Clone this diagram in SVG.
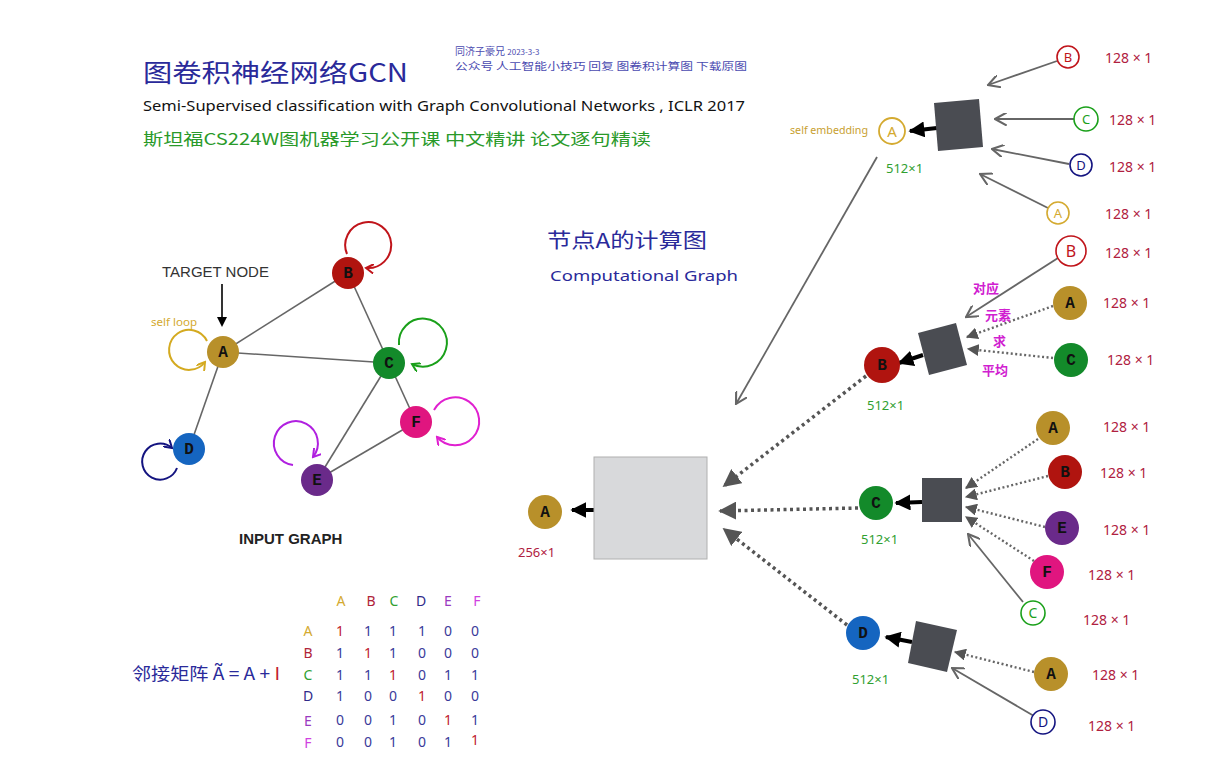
<svg xmlns="http://www.w3.org/2000/svg" width="1211" height="767" viewBox="0 0 1211 767">
<style>
.hand{font-family:"Noto Sans","Noto Sans CJK SC",sans-serif}
.cjk{font-family:"Noto Sans CJK SC","Noto Sans",sans-serif}
.nl{font-family:"Liberation Mono",monospace;font-weight:bold;font-size:16px;fill:#111;text-anchor:middle}
.edge{stroke:#666;stroke-width:1.6;fill:none}
.thin{stroke:#666;stroke-width:1.8;fill:none;marker-end:url(#open)}
.dot{stroke:#666;stroke-width:2.4;stroke-dasharray:2 2.5;fill:none;marker-end:url(#tri)}
.bigdot{stroke:#555;stroke-width:3.5;stroke-dasharray:3 3.5;fill:none;marker-end:url(#tri2)}
.out{stroke:#000;stroke-width:4;fill:none;marker-end:url(#blk)}
.agg{fill:#4a4c52}
.dim{font-family:"Noto Sans",sans-serif;font-size:14px;fill:#b02040}
.g512{font-family:"Noto Sans",sans-serif;font-size:13px;fill:#30a030}
.mx{font-family:"Noto Sans",sans-serif;font-size:14px;text-anchor:middle}
</style>
<defs>
<marker id="open" viewBox="0 0 10 10" refX="9" refY="5" markerWidth="13" markerHeight="13" markerUnits="userSpaceOnUse" orient="auto"><path d="M0,0 L9,5 L0,10" fill="none" stroke="#666" stroke-width="1.6"/></marker>
<marker id="tri" viewBox="0 0 10 10" refX="9" refY="5" markerWidth="12" markerHeight="12" markerUnits="userSpaceOnUse" orient="auto"><path d="M0,0 L10,5 L0,10 Z" fill="#555"/></marker>
<marker id="tri2" viewBox="0 0 10 10" refX="9" refY="5" markerWidth="18" markerHeight="18" markerUnits="userSpaceOnUse" orient="auto"><path d="M0,0 L10,5 L0,10 Z" fill="#555"/></marker>
<marker id="blk" viewBox="0 0 10 10" refX="9" refY="5" markerWidth="16" markerHeight="16" markerUnits="userSpaceOnUse" orient="auto"><path d="M0,0 L10,5 L0,10 Z" fill="#000"/></marker>
<marker id="arrT" viewBox="0 0 10 10" refX="5" refY="5" markerWidth="10" markerHeight="10" markerUnits="userSpaceOnUse" orient="auto"><path d="M0,0 L10,5 L0,10 Z" fill="#000"/></marker>
<marker id="lA" viewBox="0 0 10 10" refX="8" refY="5" markerWidth="10" markerHeight="10" markerUnits="userSpaceOnUse" orient="auto"><path d="M0,0 L8,5 L0,10" fill="none" stroke="#d4aa20" stroke-width="2"/></marker>
<marker id="lB" viewBox="0 0 10 10" refX="8" refY="5" markerWidth="10" markerHeight="10" markerUnits="userSpaceOnUse" orient="auto"><path d="M0,0 L8,5 L0,10" fill="none" stroke="#c0141a" stroke-width="2"/></marker>
<marker id="lC" viewBox="0 0 10 10" refX="8" refY="5" markerWidth="10" markerHeight="10" markerUnits="userSpaceOnUse" orient="auto"><path d="M0,0 L8,5 L0,10" fill="none" stroke="#1aa01a" stroke-width="2"/></marker>
<marker id="lD" viewBox="0 0 10 10" refX="8" refY="5" markerWidth="10" markerHeight="10" markerUnits="userSpaceOnUse" orient="auto"><path d="M0,0 L8,5 L0,10" fill="none" stroke="#141480" stroke-width="2"/></marker>
<marker id="lE" viewBox="0 0 10 10" refX="8" refY="5" markerWidth="10" markerHeight="10" markerUnits="userSpaceOnUse" orient="auto"><path d="M0,0 L8,5 L0,10" fill="none" stroke="#b020e0" stroke-width="2"/></marker>
<marker id="lF" viewBox="0 0 10 10" refX="8" refY="5" markerWidth="10" markerHeight="10" markerUnits="userSpaceOnUse" orient="auto"><path d="M0,0 L8,5 L0,10" fill="none" stroke="#e020d0" stroke-width="2"/></marker>
</defs>
<rect width="1211" height="767" fill="#fff"/>

<!-- header texts -->
<g id="header">
<text x="143" y="82" class="cjk" font-size="25" fill="#2a2a9a" textLength="265" lengthAdjust="spacingAndGlyphs">图卷积神经网络GCN</text>
<text x="455" y="55" class="cjk" font-size="10" fill="#4a4ab0">同济子豪兄 <tspan font-size="8">2023-3-3</tspan></text>
<text x="455" y="70" class="cjk" font-size="10" fill="#4a4ab0" textLength="292" lengthAdjust="spacingAndGlyphs">公众号 人工智能小技巧 回复 图卷积计算图 下载原图</text>
<text x="143" y="111" class="hand" font-size="14" fill="#111" textLength="602" lengthAdjust="spacingAndGlyphs">Semi-Supervised classification with Graph Convolutional Networks , ICLR 2017</text>
<text x="143" y="145" class="cjk" font-size="16" fill="#2a9a2a" textLength="508" lengthAdjust="spacingAndGlyphs">斯坦福CS224W图机器学习公开课  中文精讲   论文逐句精读</text>
</g>

<!-- input graph -->
<g id="input-graph">
<g id="ig-edges">
<line class="edge" x1="223" y1="352" x2="348" y2="273"/>
<line class="edge" x1="223" y1="352" x2="389" y2="363"/>
<line class="edge" x1="223" y1="352" x2="189" y2="449"/>
<line class="edge" x1="348" y1="273" x2="389" y2="363"/>
<line class="edge" x1="389" y1="363" x2="317" y2="480"/>
<line class="edge" x1="389" y1="363" x2="416" y2="422"/>
<line class="edge" x1="317" y1="480" x2="416" y2="422"/>
</g>
<g id="ig-loops" fill="none" stroke-width="2">
<path d="M207 341 A20 20 0 1 0 205 362" stroke="#d4aa20" marker-end="url(#lA)"/>
<path d="M347 254 A23 23 0 1 1 366 268" stroke="#c0141a" marker-end="url(#lB)"/>
<path d="M399 345 A24 24 0 1 1 412 364" stroke="#1aa01a" marker-end="url(#lC)"/>
<path d="M177 468 A18 18 0 1 1 172 448" stroke="#141480" marker-end="url(#lD)"/>
<path d="M293 465 A22 22 0 1 1 313 457" stroke="#b020e0" marker-end="url(#lE)"/>
<path d="M434 410 A24 24 0 1 1 437 437" stroke="#e020d0" marker-end="url(#lF)"/>
</g>
<g id="ig-A"><circle cx="223" cy="352" r="16" fill="#b8902a"/><text x="223" y="357" class="nl">A</text></g>
<g id="ig-B"><circle cx="348" cy="273" r="16" fill="#b0140f"/><text x="348" y="278" class="nl">B</text></g>
<g id="ig-C"><circle cx="389" cy="363" r="16" fill="#138a2a"/><text x="389" y="368" class="nl">C</text></g>
<g id="ig-D"><circle cx="189" cy="449" r="16" fill="#1565c0"/><text x="189" y="454" class="nl">D</text></g>
<g id="ig-E"><circle cx="317" cy="480" r="16" fill="#6a2a8a"/><text x="317" y="485" class="nl">E</text></g>
<g id="ig-F"><circle cx="416" cy="422" r="16" fill="#e0157f"/><text x="416" y="427" class="nl">F</text></g>
<text x="162" y="277" font-family="Liberation Sans,sans-serif" font-size="15" fill="#333">TARGET NODE</text>
<line x1="222" y1="284" x2="222" y2="322" stroke="#000" stroke-width="1.6" marker-end="url(#arrT)"/>
<text x="151" y="326" class="hand" font-size="10" fill="#d4aa30" textLength="46" lengthAdjust="spacingAndGlyphs">self loop</text>
<text x="239" y="544" font-family="Liberation Sans,sans-serif" font-weight="bold" font-size="15" fill="#222">INPUT GRAPH</text>
</g>

<!-- adjacency matrix -->
<g id="matrix">
<text x="132" y="680" class="cjk" font-size="17" fill="#2a2a9a" textLength="148" lengthAdjust="spacingAndGlyphs">邻接矩阵 Ã = A + <tspan fill="#c02030">I</tspan></text>
<g class="mx">
<text x="341" y="606" fill="#d4aa30">A</text><text x="371" y="606" fill="#b0243a">B</text><text x="394" y="606" fill="#30a030">C</text><text x="421" y="606" fill="#302a8a">D</text><text x="448" y="606" fill="#9a3ac0">E</text><text x="477" y="606" fill="#d040e0">F</text>
<text x="308" y="636" fill="#d4aa30">A</text><text x="308" y="658" fill="#b0243a">B</text><text x="308" y="680" fill="#30a030">C</text><text x="308" y="701" fill="#302a8a">D</text><text x="308" y="726" fill="#9a3ac0">E</text><text x="308" y="748" fill="#d040e0">F</text>
</g>
<g class="mx" fill="#3a3a9a">
<text x="340" y="636" fill="#c02030">1</text><text x="368" y="636">1</text><text x="393" y="636">1</text><text x="422" y="636">1</text><text x="448" y="636">0</text><text x="475" y="636">0</text>
<text x="340" y="658">1</text><text x="368" y="658" fill="#c02030">1</text><text x="393" y="658">1</text><text x="422" y="658">0</text><text x="448" y="658">0</text><text x="475" y="658">0</text>
<text x="340" y="680">1</text><text x="368" y="680">1</text><text x="393" y="680" fill="#c02030">1</text><text x="422" y="680">0</text><text x="448" y="680">1</text><text x="475" y="680">1</text>
<text x="340" y="701">1</text><text x="368" y="701">0</text><text x="393" y="701">0</text><text x="422" y="701" fill="#c02030">1</text><text x="448" y="701">0</text><text x="475" y="701">0</text>
<text x="340" y="725">0</text><text x="368" y="725">0</text><text x="393" y="725">1</text><text x="422" y="725">0</text><text x="448" y="725" fill="#c02030">1</text><text x="475" y="725">1</text>
<text x="340" y="747">0</text><text x="368" y="747">0</text><text x="393" y="747">1</text><text x="422" y="747">0</text><text x="448" y="747">1</text><text x="475" y="745" fill="#c02030">1</text>
</g>
</g>

<!-- computational graph titles -->
<text x="547" y="248" class="cjk" font-size="20" fill="#2a2a9a" textLength="160" lengthAdjust="spacingAndGlyphs">节点A的计算图</text>
<text x="550" y="281" class="hand" font-size="15" fill="#2a2a9a" textLength="188" lengthAdjust="spacingAndGlyphs">Computational Graph</text>

<!-- connectors -->
<g id="connectors">
<line class="thin" x1="877" y1="157" x2="736" y2="404"/>
<line class="bigdot" x1="866" y1="376" x2="724" y2="486"/>
<line class="bigdot" x1="858" y1="508" x2="720" y2="511"/>
<line class="bigdot" x1="847" y1="625" x2="724" y2="529"/>
<line class="out" x1="594" y1="510" x2="572" y2="510"/>
<!-- group A -->
<line class="thin" x1="1057" y1="61" x2="988" y2="85"/>
<line class="thin" x1="1074" y1="119" x2="995" y2="119"/>
<line class="thin" x1="1069" y1="164" x2="992" y2="149"/>
<line class="thin" x1="1048" y1="208" x2="980" y2="174"/>
<line class="out" x1="937" y1="128" x2="910" y2="131"/>
<!-- group B -->
<line class="thin" x1="1058" y1="258" x2="966" y2="317"/>
<line class="dot" x1="1053" y1="306" x2="967" y2="337"/>
<line class="dot" x1="1053" y1="358" x2="968" y2="349"/>
<line class="out" x1="923" y1="355" x2="899" y2="363"/>
<!-- group C -->
<line class="dot" x1="1038" y1="439" x2="966" y2="488"/>
<line class="dot" x1="1048" y1="476" x2="966" y2="497"/>
<line class="dot" x1="1045" y1="527" x2="966" y2="507"/>
<line class="dot" x1="1034" y1="561" x2="966" y2="517"/>
<line class="thin" x1="1023" y1="602" x2="968" y2="534"/>
<line class="out" x1="922" y1="502" x2="896" y2="503"/>
<!-- group D -->
<line class="dot" x1="1034" y1="672" x2="955" y2="652"/>
<line class="thin" x1="1034" y1="716" x2="952" y2="668"/>
<line class="out" x1="912" y1="642" x2="886" y2="637"/>
</g>

<!-- final output A -->
<g id="layer2">
<rect x="594" y="457" width="113" height="102" fill="#d8d9db" stroke="#b0b0b0" stroke-width="1"/>
</g>
<g id="outA">
<circle cx="545" cy="512" r="17" fill="#b8902a"/><text x="545" y="517" class="nl">A</text>
<text x="518" y="557" class="hand" font-size="13" fill="#b02040">256×1</text>
</g>

<!-- group A (top) -->
<g id="aggA">
<polygon class="agg" points="934,103 979,99 983,147 938,151"/>
<circle cx="892" cy="131" r="13" fill="#fff" stroke="#d4aa30" stroke-width="1.8"/>
<text x="892" y="137" class="hand" font-size="15" fill="#d4aa30" text-anchor="middle">A</text>
<text x="790" y="134" class="hand" font-size="10" fill="#c8a030" textLength="78" lengthAdjust="spacingAndGlyphs">self embedding</text>
<text x="886" y="173" class="g512">512×1</text>
</g>
<g id="inA-B"><circle cx="1068" cy="57" r="11" fill="#fff" stroke="#c0141a" stroke-width="1.6"/><text x="1068" y="62" class="hand" font-size="13" fill="#c0141a" text-anchor="middle">B</text><text x="1105" y="63" class="dim">128 × 1</text></g>
<g id="inA-C"><circle cx="1086" cy="119" r="12" fill="#fff" stroke="#1aa01a" stroke-width="1.6"/><text x="1086" y="124" class="hand" font-size="13" fill="#1aa01a" text-anchor="middle">C</text><text x="1109" y="125" class="dim">128 × 1</text></g>
<g id="inA-D"><circle cx="1081" cy="165" r="11" fill="#fff" stroke="#141480" stroke-width="1.6"/><text x="1081" y="170" class="hand" font-size="13" fill="#141480" text-anchor="middle">D</text><text x="1109" y="172" class="dim">128 × 1</text></g>
<g id="inA-A"><circle cx="1058" cy="213" r="11" fill="#fff" stroke="#d4aa30" stroke-width="1.6"/><text x="1058" y="218" class="hand" font-size="13" fill="#d4aa30" text-anchor="middle">A</text><text x="1105" y="219" class="dim">128 × 1</text></g>

<!-- group B -->
<g id="aggB">
<polygon class="agg" points="918,333 956,323 967,365 929,375"/>
<circle cx="882" cy="365" r="18" fill="#b0140f"/><text x="882" y="370" class="nl">B</text>
<text x="867" y="410" class="g512">512×1</text>
<text x="973" y="293" class="cjk" font-size="13" font-weight="bold" fill="#d020d0">对应</text>
<text x="985" y="320" class="cjk" font-size="13" font-weight="bold" fill="#d020d0">元素</text>
<text x="993" y="346" class="cjk" font-size="13" font-weight="bold" fill="#d020d0">求</text>
<text x="982" y="375" class="cjk" font-size="13" font-weight="bold" fill="#d020d0">平均</text>
</g>
<g id="inB-B"><circle cx="1071" cy="251" r="15" fill="#fff" stroke="#c0141a" stroke-width="1.6"/><text x="1071" y="257" class="hand" font-size="16" fill="#c0141a" text-anchor="middle">B</text><text x="1105" y="258" class="dim">128 × 1</text></g>
<g id="inB-A"><circle cx="1070" cy="303" r="17" fill="#b8902a"/><text x="1070" y="308" class="nl">A</text><text x="1103" y="308" class="dim">128 × 1</text></g>
<g id="inB-C"><circle cx="1071" cy="360" r="17" fill="#138a2a"/><text x="1071" y="365" class="nl">C</text><text x="1107" y="365" class="dim">128 × 1</text></g>

<!-- group C -->
<g id="aggC">
<rect class="agg" x="922" y="478" width="40" height="44"/>
<circle cx="876" cy="503" r="17" fill="#138a2a"/><text x="876" y="508" class="nl">C</text>
<text x="861" y="544" class="g512">512×1</text>
</g>
<g id="inC-A"><circle cx="1053" cy="428" r="17" fill="#b8902a"/><text x="1053" y="433" class="nl">A</text><text x="1103" y="432" class="dim">128 × 1</text></g>
<g id="inC-B"><circle cx="1065" cy="472" r="17" fill="#b0140f"/><text x="1065" y="477" class="nl">B</text><text x="1100" y="478" class="dim">128 × 1</text></g>
<g id="inC-E"><circle cx="1062" cy="528" r="17" fill="#6a2a8a"/><text x="1062" y="533" class="nl">E</text><text x="1103" y="535" class="dim">128 × 1</text></g>
<g id="inC-F"><circle cx="1047" cy="572" r="17" fill="#e0157f"/><text x="1047" y="577" class="nl">F</text><text x="1088" y="580" class="dim">128 × 1</text></g>
<g id="inC-C"><circle cx="1033" cy="613" r="12" fill="#fff" stroke="#1aa01a" stroke-width="1.6"/><text x="1033" y="618" class="hand" font-size="14" fill="#1aa01a" text-anchor="middle">C</text><text x="1083" y="625" class="dim">128 × 1</text></g>

<!-- group D -->
<g id="aggD">
<polygon class="agg" points="916,621 957,630 947,672 908,663"/>
<circle cx="863" cy="633" r="17" fill="#1565c0"/><text x="863" y="638" class="nl">D</text>
<text x="852" y="684" class="g512">512×1</text>
</g>
<g id="inD-A"><circle cx="1051" cy="674" r="17" fill="#b8902a"/><text x="1051" y="679" class="nl">A</text><text x="1092" y="680" class="dim">128 × 1</text></g>
<g id="inD-D"><circle cx="1043" cy="722" r="12" fill="#fff" stroke="#141480" stroke-width="1.6"/><text x="1043" y="727" class="hand" font-size="14" fill="#141480" text-anchor="middle">D</text><text x="1088" y="731" class="dim">128 × 1</text></g>
</svg>
